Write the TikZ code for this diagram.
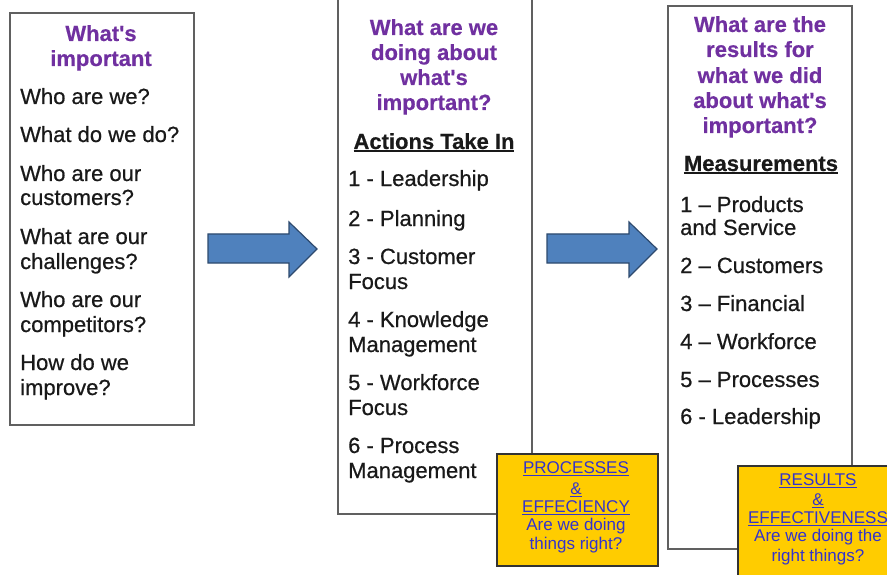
\documentclass[tikz,border=0pt]{standalone}
\usepackage{fontspec}
\setmainfont{Liberation Sans}[Ligatures=TeXOff]
\newfontfamily\bodyfont{Liberation Sans}[Ligatures=TeXOff,FakeBold=0.6]
\newfontfamily\headfont{Liberation Sans Bold}[Ligatures=TeXOff,FakeBold=0.4]
\definecolor{boxline}{HTML}{606060}
\definecolor{arrowfill}{HTML}{4F81BD}
\definecolor{arrowline}{HTML}{2E4A6E}
\definecolor{yel}{HTML}{FFCC00}
\definecolor{bluetxt}{HTML}{3333CC}
\definecolor{purp}{HTML}{7030A0}
\newcommand\myul[2]{\setbox0\hbox{#2}\rlap{\rule[-3pt]{\wd0}{#1}}\box0}
\begin{document}
\begin{tikzpicture}[x=1pt,y=-1pt,
  body/.style={anchor=base west,inner sep=0pt,font=\bodyfont\fontsize{22}{25}\selectfont,text=black!90},
  head/.style={anchor=base,inner sep=0pt,font=\headfont\fontsize{22}{25}\selectfont,text=purp},
  sub/.style={anchor=base,inner sep=0pt,font=\headfont\fontsize{22}{25}\selectfont,text=black!90},
  ytxt/.style={anchor=base,inner sep=0pt,font=\fontsize{17}{19}\selectfont,text=bluetxt},
  frame/.style={draw=boxline,line width=2pt,fill=white},
  ybox/.style={draw=black!80,line width=1.5pt,fill=yel},
  blockarrow/.style={draw=arrowline,line width=1.2pt,fill=arrowfill,line join=miter}]
\useasboundingbox[clip] (0,0) rectangle (887,575);
\fill[white] (0,0) rectangle (887,575);

% frames
\draw[frame] (10,13) rectangle (194,425);
\draw[frame] (338,-10) rectangle (532,514);
\draw[frame] (668,6) rectangle (852,549);

% arrows
\draw[blockarrow] (208,234) -- (289,234) -- (289,222) -- (317,249) -- (289,277) -- (289,263) -- (208,263) -- cycle;
\draw[blockarrow] (547,234) -- (629,234) -- (629,222) -- (657,249) -- (629,277) -- (629,263) -- (547,263) -- cycle;

% box 1
\node[head] (h1a) at (101,41) {What's};
\node[head] (h1b) at (101,66) {important};
\node[body] (q1) at (20,104) {Who are we?};
\node[body] (q2) at (20,142) {What do we do?};
\node[body] (q3a) at (20,181) {Who are our};
\node[body] (q3b) at (20,205) {customers?};
\node[body] (q4a) at (20,244) {What are our};
\node[body] (q4b) at (20,269) {challenges?};
\node[body] (q5a) at (20,307) {Who are our};
\node[body] (q5b) at (20,332) {competitors?};
\node[body] (q6a) at (20,370) {How do we};
\node[body] (q6b) at (20,395) {improve?};

% box 2
\node[head] (h2a) at (434,35) {What are we};
\node[head] (h2b) at (434,60) {doing about};
\node[head] (h2c) at (434,85) {what's};
\node[head] (h2d) at (434,110) {important?};
\node[sub] (s2) at (434,149) {\myul{2pt}{Actions Take In}};
\node[body] (a1) at (348,186) {1 - Leadership};
\node[body] (a2) at (348,226) {2 - Planning};
\node[body] (a3a) at (348,264) {3 - Customer};
\node[body] (a3b) at (348,289) {Focus};
\node[body] (a4a) at (348,327) {4 - Knowledge};
\node[body] (a4b) at (348,352) {Management};
\node[body] (a5a) at (348,390) {5 - Workforce};
\node[body] (a5b) at (348,415) {Focus};
\node[body] (a6a) at (348,453) {6 - Process};
\node[body] (a6b) at (348,478) {Management};

% box 3
\node[head] (h3a) at (760,32) {What are the};
\node[head] (h3b) at (760,57) {results for};
\node[head] (h3c) at (760,83) {what we did};
\node[head] (h3d) at (760,108) {about what's};
\node[head] (h3e) at (760,133) {important?};
\node[sub] (s3) at (761,171) {\myul{2pt}{Measurements}};
\node[body] (m1a) at (680,212) {1 – Products};
\node[body] (m1b) at (680,235) {and Service};
\node[body] (m2) at (680,273) {2 – Customers};
\node[body] (m3) at (680,311) {3 – Financial};
\node[body] (m4) at (680,349) {4 – Workforce};
\node[body] (m5) at (680,387) {5 – Processes};
\node[body] (m6) at (680,424) {6 - Leadership};

% yellow boxes
\draw[ybox] (497,454) rectangle (658,566);
\node[ytxt] (y1a) at (576,473) {\myul{1.5pt}{PROCESSES}};
\node[ytxt] (y1b) at (576,494) {\myul{1.5pt}{\&}};
\node[ytxt] (y1c) at (576,512) {\myul{1.5pt}{EFFECIENCY}};
\node[ytxt] (y1d) at (576,530) {Are we doing};
\node[ytxt] (y1e) at (576,549) {things right?};

\draw[ybox] (738,466) rectangle (900,590);
\node[ytxt] (y2a) at (818,485) {\myul{1.5pt}{RESULTS}};
\node[ytxt] (y2b) at (818,505) {\myul{1.5pt}{\&}};
\node[ytxt] (y2c) at (818,523) {\myul{1.5pt}{EFFECTIVENESS}};
\node[ytxt] (y2d) at (818,541) {Are we doing the};
\node[ytxt] (y2e) at (818,561) {right things?};
\end{tikzpicture}
\end{document}
